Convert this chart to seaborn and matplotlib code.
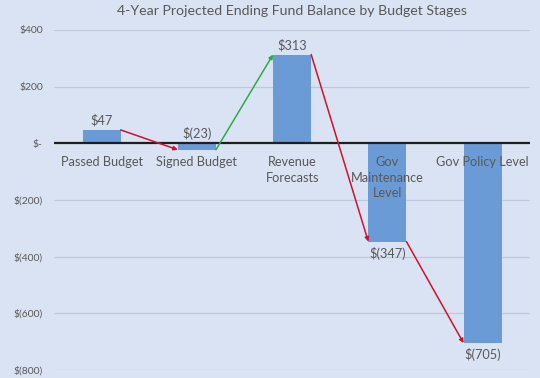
import matplotlib
matplotlib.use("Agg")
import matplotlib.pyplot as plt
import seaborn as sns
import pandas as pd

# --- data ---
stages = ['Passed Budget', 'Signed Budget', 'Revenue\nForecasts',
          'Gov\nMaintenance\nLevel', 'Gov Policy Level']
balances = [47, -23, 313, -347, -705]
value_labels = ['$47', '$(23)', '$313', '$(347)', '$(705)']
arrow_colors = ['#d0112b', '#2eaa4a', '#d0112b', '#d0112b']
y_ticks = [400, 200, 0, -200, -400, -600, -800]
y_tick_labels = ['$400', '$200', '$-', '$(200)', '$(400)', '$(600)', '$(800)']

BG = '#dae3f3'
GREY = '#595959'
BAR_W = 0.40


def money_chart():
    df = pd.DataFrame({'stage': stages, 'balance': balances})
    sns.set_style('white')
    plt.rcParams['font.family'] = ['Lato', 'DejaVu Sans']

    fig = plt.figure(figsize=(5.4, 3.78), dpi=100)
    fig.patch.set_facecolor(BG)
    ax = fig.add_axes([0.1, 0.021, 0.882, 0.9])
    ax.set_facecolor(BG)

    sns.barplot(data=df, x='stage', y='balance', color='#6a9bd6',
                width=BAR_W, saturation=1, linewidth=0, ax=ax, zorder=3)

    ax.set_ylim(-800, 400)
    ax.set_xlim(-0.5, 4.5)
    ax.set_yticks(y_ticks)
    ax.set_yticklabels(y_tick_labels, color=GREY, fontsize=7.5)
    ax.tick_params(axis='y', length=0, pad=8)
    ax.set_xticks([])
    ax.set_xlabel('')
    ax.set_ylabel('')
    for s in ax.spines.values():
        s.set_visible(False)
    for t in y_ticks:
        if t != 0:
            ax.axhline(t, color='#bfc8d9', lw=0.9, zorder=1)
    ax.axhline(0, color='#1f1f1f', lw=1.6, zorder=4)

    # category names under the zero line
    for i, name in enumerate(stages):
        ax.text(i, -46, name, ha='center', va='top', fontsize=9.2,
                color=GREY, zorder=5, linespacing=1.35)

    # value labels (small negatives sit above the zero line)
    for i, (v, lab) in enumerate(zip(balances, value_labels)):
        if v > -50:
            ax.text(i, max(v, 0) + 12, lab, ha='center', va='bottom',
                    fontsize=9.2, color=GREY)
        else:
            ax.text(i, v - 18, lab, ha='center', va='top', fontsize=9.2, color=GREY)

    # connecting arrows between bars
    for i in range(len(balances) - 1):
        x0 = i + BAR_W / 2
        x1 = i + 1 - BAR_W / 2
        ax.annotate('', xy=(x1, balances[i + 1]), xytext=(x0, balances[i]),
                    arrowprops=dict(arrowstyle='-|>', color=arrow_colors[i],
                                    lw=1.1, mutation_scale=6,
                                    shrinkA=0, shrinkB=0),
                    zorder=6)

    ax.set_title('4-Year Projected Ending Fund Balance by Budget Stages',
                 fontsize=10.2, color=GREY, pad=11)
    fig.savefig('out.png', dpi=100, facecolor=BG)
    plt.close(fig)


if __name__ == '__main__':
    money_chart()
